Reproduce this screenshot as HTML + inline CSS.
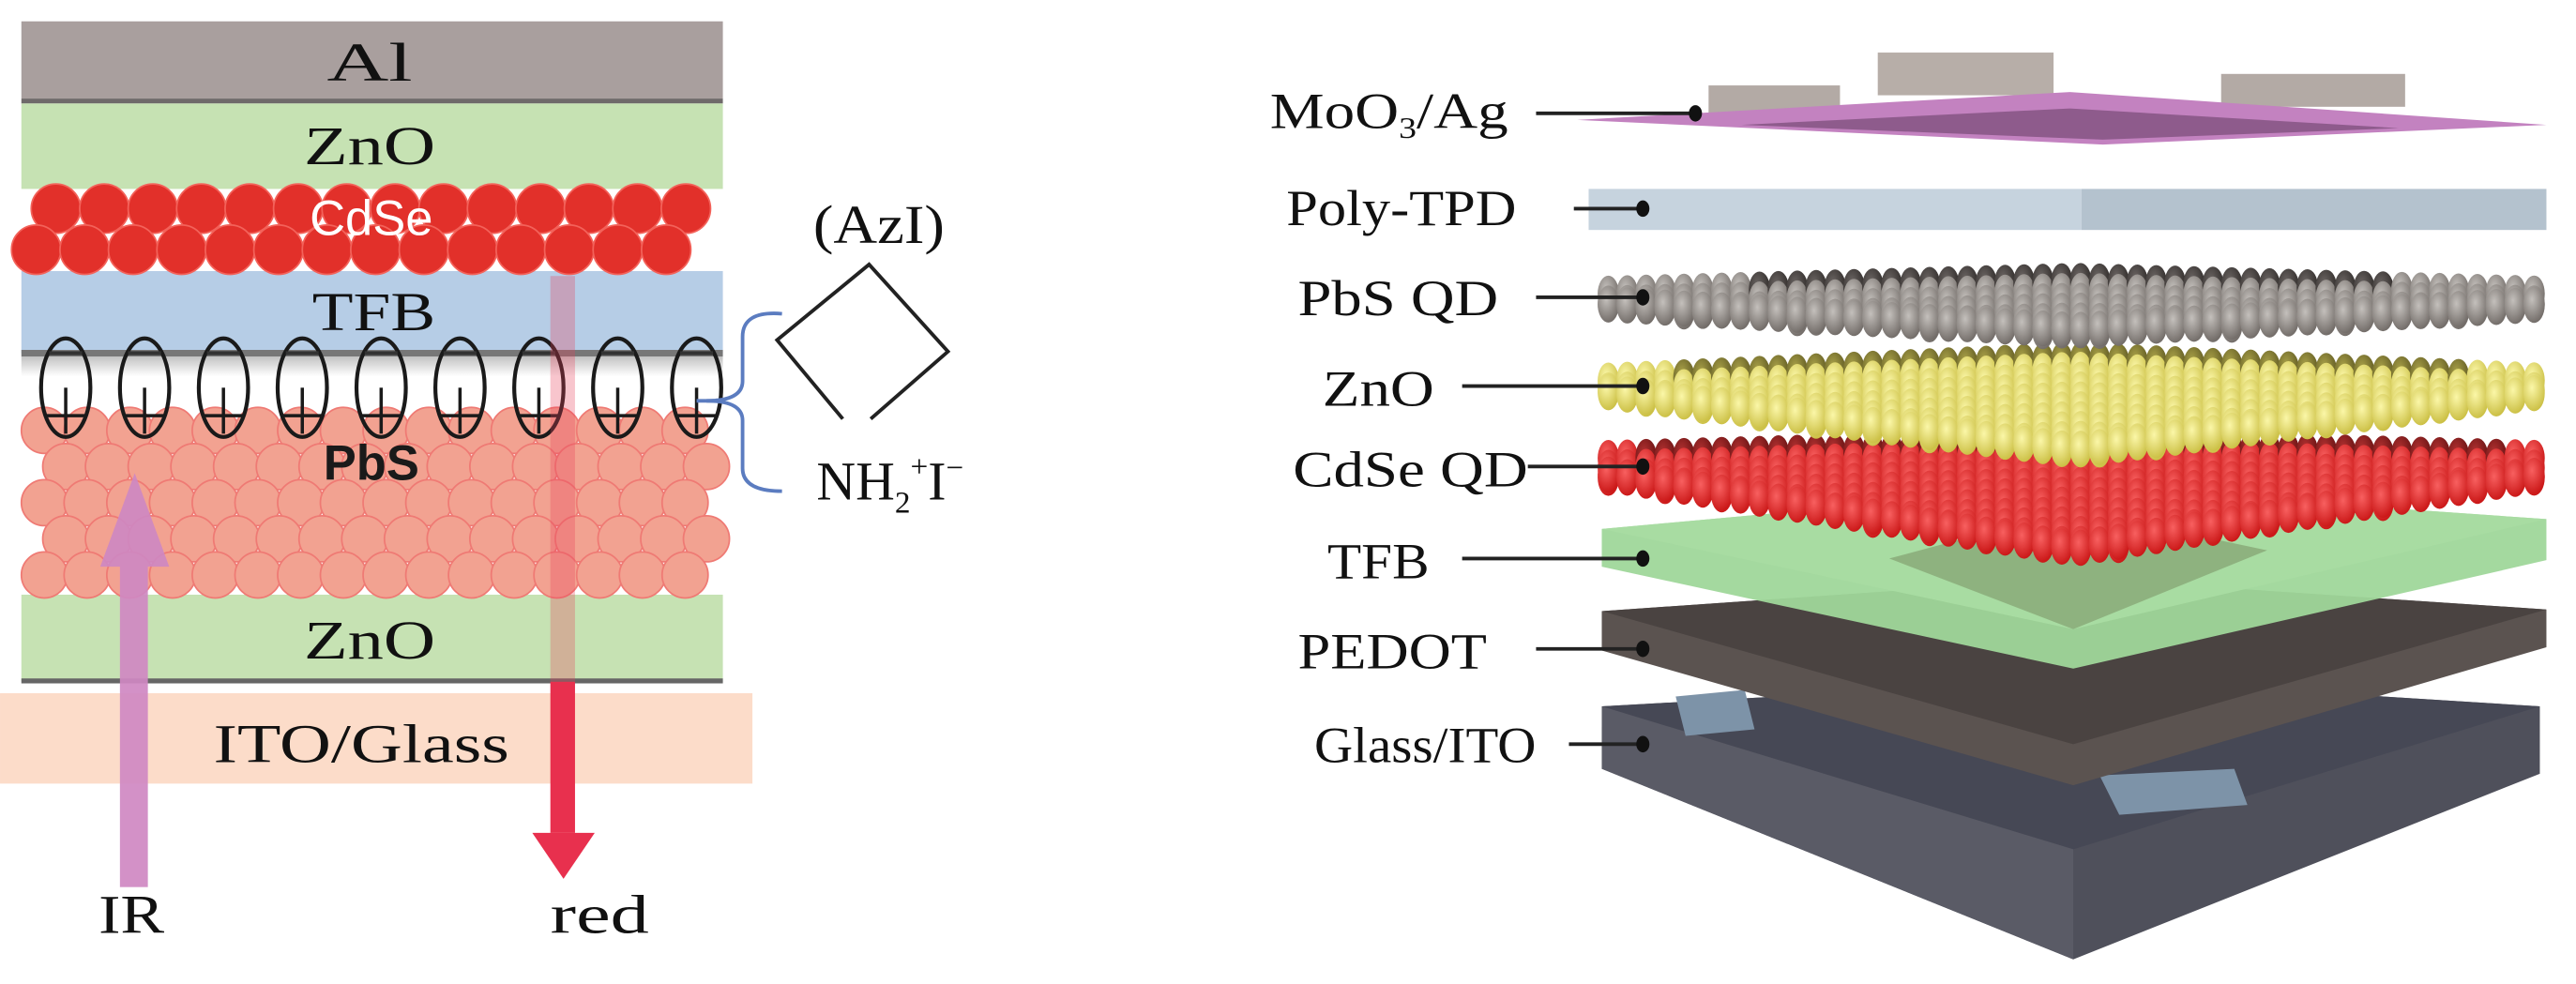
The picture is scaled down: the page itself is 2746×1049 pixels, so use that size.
<!DOCTYPE html>
<html><head><meta charset="utf-8"><style>
html,body{margin:0;padding:0;background:#fff;width:2746px;height:1049px;overflow:hidden}
svg{display:block}
.s{font-family:"Liberation Serif",serif;fill:#111}
.a{font-family:"Liberation Sans",sans-serif}
</style></head><body>
<svg id="g" width="2746" height="1049" viewBox="0 0 1568 599" xmlns="http://www.w3.org/2000/svg">
<defs>
<radialGradient id="gr" cx="0.4" cy="0.35" r="0.7"><stop offset="0" stop-color="#c4c0bc"/><stop offset="1" stop-color="#6e6864"/></radialGradient>
<radialGradient id="ye" cx="0.4" cy="0.35" r="0.7"><stop offset="0" stop-color="#fbf7a8"/><stop offset="1" stop-color="#c9bd40"/></radialGradient>
<radialGradient id="re" cx="0.4" cy="0.35" r="0.7"><stop offset="0" stop-color="#f86060"/><stop offset="1" stop-color="#c81414"/></radialGradient>
<radialGradient id="grd" cx="0.4" cy="0.35" r="0.7"><stop offset="0" stop-color="#6a6462"/><stop offset="1" stop-color="#2a2624"/></radialGradient>
<radialGradient id="yed" cx="0.4" cy="0.35" r="0.7"><stop offset="0" stop-color="#a8a048"/><stop offset="1" stop-color="#5a5420"/></radialGradient>
<radialGradient id="red" cx="0.4" cy="0.35" r="0.7"><stop offset="0" stop-color="#b03030"/><stop offset="1" stop-color="#601010"/></radialGradient>
<linearGradient id="wb" x1="0" y1="0" x2="0" y2="1"><stop offset="0" stop-color="#999"/><stop offset="0.3" stop-color="#fff"/><stop offset="1" stop-color="#fff"/></linearGradient>
</defs>
<!-- LEFT DIAGRAM -->
<rect x="13" y="13" width="427" height="47" fill="#a99f9e"/>
<rect x="13" y="60" width="427" height="3" fill="#6f6a6a"/>
<rect x="13" y="63" width="427" height="52" fill="#c6e2b3"/>
<rect x="13" y="165" width="427" height="50" fill="#b6cde6"/>
<rect x="13" y="213" width="427" height="4" fill="#777"/>
<rect x="13" y="217" width="427" height="40" fill="url(#wb)" opacity="0.6"/>
<rect x="13" y="362" width="427" height="53" fill="#c6e2b3"/>
<rect x="13" y="413" width="427" height="3" fill="#666"/>
<rect x="0" y="422" width="458" height="55" fill="#fcdcc9"/>
<g id="cdse"></g>
<g id="pbs"></g>
<g id="ell"></g>
<text x="199" y="49" class="s" font-size="33" textLength="52" lengthAdjust="spacingAndGlyphs">Al</text>
<text x="185" y="100" class="s" font-size="33" textLength="80" lengthAdjust="spacingAndGlyphs">ZnO</text>
<text x="226" y="143" text-anchor="middle" class="a" font-size="30" fill="#fff">CdSe</text>
<text x="190" y="201" class="s" font-size="33" textLength="75" lengthAdjust="spacingAndGlyphs">TFB</text>
<text x="226" y="292" text-anchor="middle" class="a" font-size="30" font-weight="bold" fill="#1a1a1a">PbS</text>
<text x="185" y="401" class="s" font-size="33" textLength="80" lengthAdjust="spacingAndGlyphs">ZnO</text>
<text x="130" y="464" class="s" font-size="33" textLength="180" lengthAdjust="spacingAndGlyphs">ITO/Glass</text>
<!-- IR arrow -->
<g fill="#cf88c2" opacity="0.92">
<rect x="73" y="340" width="17" height="200"/>
<polygon points="82,288 103,345 61,345"/>
</g>
<!-- red arrow -->
<rect x="335" y="168" width="15" height="247" fill="#e8405a" opacity="0.3"/>
<rect x="335" y="415" width="15" height="92" fill="#e8304e"/>
<polygon points="324,507 362,507 343,535" fill="#e8304e"/>
<text x="60" y="568" class="s" font-size="33" textLength="40" lengthAdjust="spacingAndGlyphs">IR</text>
<text x="335" y="568" class="s" font-size="33" textLength="60" lengthAdjust="spacingAndGlyphs">red</text>
<!-- brace -->
<path d="M476,191 Q452,189 452,205 L452,232 Q452,244 430,244 M430,244 Q452,244 452,256 L452,285 Q452,299 476,299" fill="none" stroke="#5b7cc0" stroke-width="2.2"/>
<line x1="424" y1="244" x2="440" y2="244" stroke="#5b7cc0" stroke-width="2.2"/>
<text x="495" y="148" class="s" font-size="33" textLength="80" lengthAdjust="spacingAndGlyphs">(AzI)</text>
<polyline points="513,255 473,207 529,161 577,214 530,255" fill="none" stroke="#222" stroke-width="2.2"/>
<text x="497" y="304" class="s" font-size="33">NH<tspan font-size="19" dy="8">2</tspan><tspan font-size="19" dy="-22">+</tspan><tspan dy="14">I</tspan><tspan font-size="19" dy="-13">−</tspan></text>
<!-- RIGHT DIAGRAM -->
<polygon points="975,430 1277,413 1546,430 1546,471 1262,584 975,468" fill="#4f505b"/>
<polygon points="975,430 1277,413 1546,430 1262,517" fill="#464855"/>
<polygon points="975,468 1262,584 1262,517 975,430" fill="#5a5b66"/>
<polygon points="1020,424 1062,420 1068,444 1026,448" fill="#7d93a8"/>
<polygon points="1278,472 1360,468 1368,490 1290,496" fill="#7d93a8"/>
<polygon points="975,372 1265,352 1550,371 1550,394 1262,478 975,396" fill="#5b5350"/>
<polygon points="975,372 1265,352 1550,371 1262,453" fill="#4a4341"/>
<polygon points="975,322 1262,296 1550,316 1550,341 1262,407 975,345" fill="#9fd79a" opacity="0.95"/>
<polygon points="975,322 1262,296 1550,316 1262,383" fill="#a9dca2" opacity="0.95"/>
<polygon points="1150,340 1262,310 1380,335 1262,383" fill="#6f7e55" opacity="0.45"/>
<g id="qd"></g>
<rect x="967" y="115" width="300" height="25" fill="#c6d3de"/>
<rect x="1267" y="115" width="283" height="25" fill="#b4c2ce"/>
<rect x="1040" y="52" width="80" height="18" fill="#b3aaa5"/>
<rect x="1143" y="32" width="107" height="26" fill="#b7aea8"/>
<rect x="1352" y="45" width="112" height="20" fill="#b3aaa5"/>
<polygon points="960,73 1260,56 1550,76 1280,88" fill="#c382c0"/>
<polygon points="1060,76 1260,66 1460,78 1280,85" fill="#5a3358" opacity="0.5"/>
<g class="s" font-size="31">
<text x="773" y="78" textLength="145" lengthAdjust="spacingAndGlyphs">MoO<tspan font-size="18" dy="6">3</tspan><tspan dy="-6">/Ag</tspan></text>
<text x="783" y="137" textLength="140" lengthAdjust="spacingAndGlyphs">Poly-TPD</text>
<text x="790" y="192" textLength="122" lengthAdjust="spacingAndGlyphs">PbS QD</text>
<text x="805" y="247" textLength="68" lengthAdjust="spacingAndGlyphs">ZnO</text>
<text x="787" y="296" textLength="143" lengthAdjust="spacingAndGlyphs">CdSe QD</text>
<text x="808" y="352" textLength="62" lengthAdjust="spacingAndGlyphs">TFB</text>
<text x="790" y="407" textLength="115" lengthAdjust="spacingAndGlyphs">PEDOT</text>
<text x="800" y="464" textLength="135" lengthAdjust="spacingAndGlyphs">Glass/ITO</text>
</g>
<g stroke="#222" stroke-width="2.2">
<line x1="935" y1="69" x2="1032" y2="69"/>
<line x1="958" y1="127" x2="1000" y2="127"/>
<line x1="935" y1="181" x2="1000" y2="181"/>
<line x1="890" y1="235" x2="1000" y2="235"/>
<line x1="930" y1="284" x2="1000" y2="284"/>
<line x1="890" y1="340" x2="1000" y2="340"/>
<line x1="935" y1="395" x2="1000" y2="395"/>
<line x1="955" y1="453" x2="1000" y2="453"/>
</g>
<g fill="#111">
<ellipse cx="1032" cy="69" rx="4" ry="5"/>
<ellipse cx="1000" cy="127" rx="4" ry="5"/>
<ellipse cx="1000" cy="181" rx="4" ry="5"/>
<ellipse cx="1000" cy="235" rx="4" ry="5"/>
<ellipse cx="1000" cy="284" rx="4" ry="5"/>
<ellipse cx="1000" cy="340" rx="4" ry="5"/>
<ellipse cx="1000" cy="395" rx="4" ry="5"/>
<ellipse cx="1000" cy="453" rx="4" ry="5"/>
</g>
</svg>
<script>
var NS="http://www.w3.org/2000/svg";
function el(p,t,a){var e=document.createElementNS(NS,t);for(var k in a)e.setAttribute(k,a[k]);p.appendChild(e);return e;}
var c=document.getElementById("cdse");
for(var r=0;r<2;r++){for(var i=0;i<15;i++){var x=28+i*29.5+(r?-6:6);if(x>428)continue;
el(c,"ellipse",{cx:x,cy:r?152:127,rx:15,ry:15,fill:"#e2302a",stroke:"#f3625a","stroke-width":"1"});}}
var p=document.getElementById("pbs");
var ys=[262,284,306,328,350];
for(var r=0;r<5;r++){for(var i=0;i<17;i++){var x=27+i*26+(r%2?13:0);if(x>430)continue;
el(p,"circle",{cx:x,cy:ys[r],r:14,fill:"#f2a291",stroke:"#ef7a74","stroke-width":"1"});}}
var e=document.getElementById("ell");
for(var i=0;i<9;i++){var x=40+i*48;
el(e,"ellipse",{cx:x,cy:236,rx:15,ry:30,fill:"none",stroke:"#1a1a1a","stroke-width":"2.4"});
el(e,"line",{x1:x-10,y1:215,x2:x+10,y2:215,stroke:"#333","stroke-width":"2.4"});
el(e,"line",{x1:x,y1:236,x2:x,y2:264,stroke:"#1a1a1a","stroke-width":"2"});
el(e,"line",{x1:x-12,y1:253,x2:x+12,y2:253,stroke:"#1a1a1a","stroke-width":"2"});}
var q=document.getElementById("qd");
var cx=1263,hw=290;
var L=[["re",262,345,270,299],["ye",210,285,223,249],["gr",162,212,170,196]];
L.forEach(function(l){
 for(var x=cx-hw+6;x<=cx+hw-6;x+=11.5){var u=Math.abs(x-cx)/hw;
  var t=l[1]+(l[3]-l[1])*u, b=l[2]+(l[4]-l[2])*u;
  var n=0;
  for(var y=t+9;y<=b-9+0.1;y+=6){
   var g=(y<t+15&&b-t>34)?l[0]+"d":l[0];
   el(q,"ellipse",{cx:x,cy:y,rx:6.5,ry:11,fill:"url(#"+g+")"});
  }
  var yy=b-11; if(yy<t+9) yy=t+9;
  el(q,"ellipse",{cx:x,cy:yy,rx:6.5,ry:11,fill:"url(#"+l[0]+")"});
 }
});
</script>
</body></html>
